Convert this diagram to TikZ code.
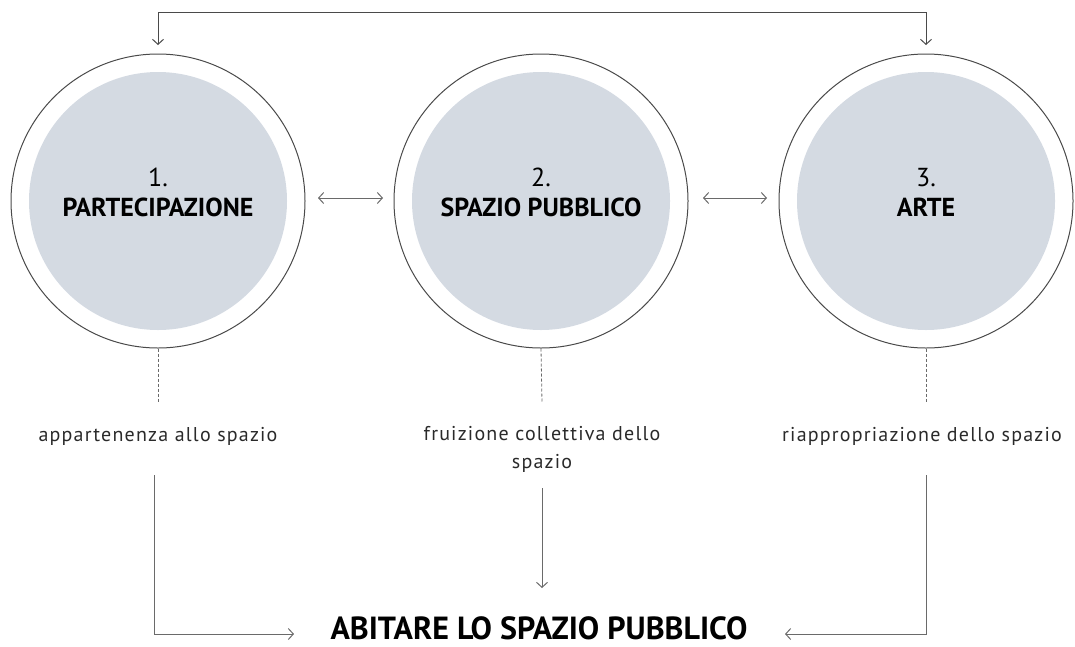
\documentclass[tikz,border=0pt]{standalone}
\usepackage{fontspec}
\setmainfont{PT Sans}
\usetikzlibrary{arrows.meta}
\definecolor{fillc}{HTML}{D4DAE2}
\definecolor{linec}{HTML}{4A4A4A}
\definecolor{arrc}{HTML}{6A6A6A}
\definecolor{txtc}{HTML}{2A2A2A}
\tikzset{
  outer/.style={circle, draw=linec, line width=1pt, minimum size=294pt, inner sep=0pt},
  inner/.style={circle, fill=fillc, minimum size=258pt, inner sep=0pt},
  conn/.style={draw=arrc, line width=1pt, -{Straight Barb[length=5pt,width=11pt]}},
  dconn/.style={draw=arrc, line width=1pt, {Straight Barb[length=5pt,width=11pt]}-{Straight Barb[length=5pt,width=11pt]}},
  dashln/.style={draw=arrc, line width=0.8pt, dash pattern=on 3pt off 2pt},
  ctitle/.style={align=center, text=black, font=\fontsize{26}{30}\selectfont},
  lbl/.style={align=center, text=txtc, font=\addfontfeature{LetterSpace=6}\fontsize{20}{28}\selectfont},
  big/.style={text=black, inner sep=0pt, font=\bfseries\fontsize{32}{36}\selectfont}
}
\begin{document}
\begin{tikzpicture}[x=1pt,y=-1pt]
\useasboundingbox (0,0) rectangle (1075,646);
% circles
\node[inner] (i1) at (158,201) {};
\node[outer] (c1) at (158,201) {};
\node[inner] (i2) at (541,201) {};
\node[outer] (c2) at (541,201) {};
\node[inner] (i3) at (926,201) {};
\node[outer] (c3) at (926,201) {};
\node[ctitle] (t1) at (158,192) {1.\\\textbf{PARTECIPAZIONE}};
\node[ctitle] (t2) at (541,192) {2.\\\textbf{SPAZIO PUBBLICO}};
\node[ctitle] (t3) at (926,192) {3.\\\textbf{ARTE}};
% top connector
\coordinate (tl) at (158,12);
\coordinate (tr) at (926,12);
\coordinate (al) at (158,45);
\coordinate (ar) at (926,45);
\draw[draw=linec, line width=1pt] (tl) -- (tr);
\draw[conn, draw=linec] (tl) -- (al);
\draw[conn, draw=linec] (tr) -- (ar);
% double arrows
\coordinate (d1a) at (318,198);
\coordinate (d1b) at (383,198);
\coordinate (d2a) at (703,198);
\coordinate (d2b) at (767,198);
\draw[dconn] (d1a) -- (d1b);
\draw[dconn] (d2a) -- (d2b);
% labels
\node[lbl] (l1) at (158,436) {appartenenza allo spazio};
\node[lbl] (l2) at (542,449) {fruizione collettiva dello\\spazio};
\node[lbl] (l3) at (922,436) {riappropriazione dello spazio};
% dashed
\coordinate (e1) at (158,403);
\coordinate (e2) at (542,403);
\coordinate (e3) at (926,403);
\draw[dashln] (c1.south) -- (e1);
\draw[dashln] (c2.south) -- (e2);
\draw[dashln] (c3.south) -- (e3);
% bottom
\node[big, anchor=base] (bt) at (539,639) {ABITARE LO SPAZIO PUBBLICO};
\coordinate (b1) at (154,475);
\coordinate (b1c) at (154,634);
\coordinate (b1e) at (294,634);
\coordinate (b3) at (926,475);
\coordinate (b3c) at (926,634);
\coordinate (b3e) at (785,634);
\coordinate (b2) at (542,488);
\coordinate (b2e) at (542,588);
\draw[conn] (b1) -- (b1c) -- (b1e);
\draw[conn] (b3) -- (b3c) -- (b3e);
\draw[conn] (b2) -- (b2e);
\end{tikzpicture}
\end{document}
